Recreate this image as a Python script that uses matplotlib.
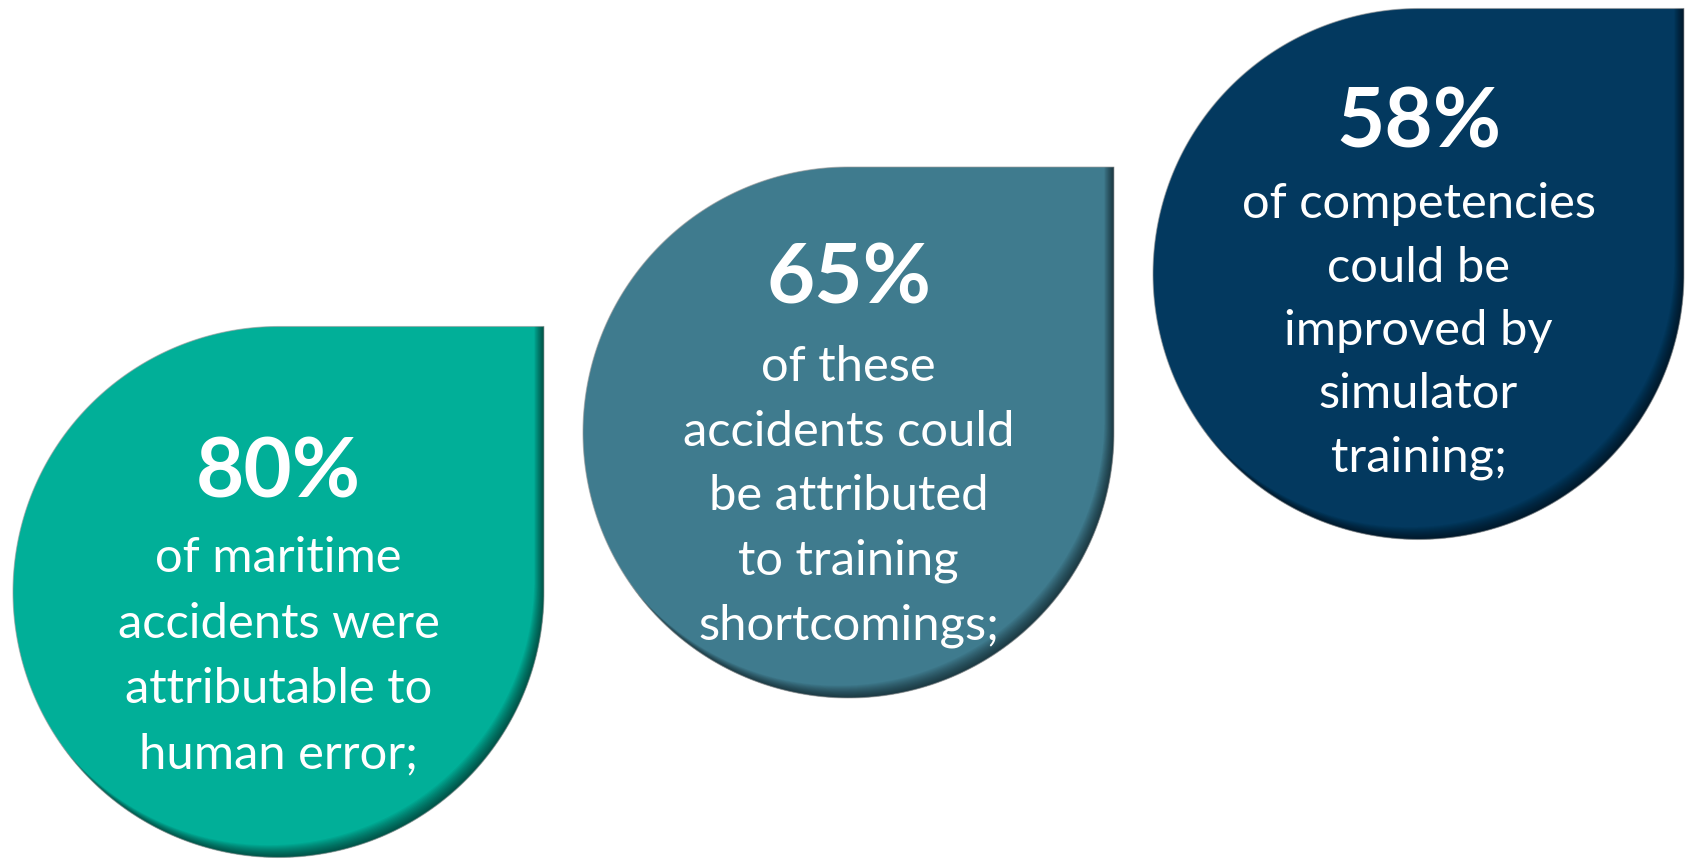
import numpy as np
import matplotlib
matplotlib.use("Agg")
import matplotlib.pyplot as plt
from matplotlib.path import Path
from matplotlib.patches import PathPatch

# ---- data ----
percentages = [80, 65, 58]
descriptions = [
    ["of maritime", "accidents were", "attributable to", "human error;"],
    ["of these", "accidents could", "be attributed", "to training", "shortcomings;"],
    ["of competencies", "could be", "improved by", "simulator", "training;"],
]
colors = ["#01AF98", "#3F7B8E", "#03395F"]

# ---- layout (pixel coordinates, y downward) ----
W, H = 1685, 859
centers = [(278.5, 592.0), (848.5, 432.5), (1418.5, 274.0)]
radius = 265.5
big_baselines = [497, 304, 148]
body_first = [572, 381, 218]
body_step = [65.6, 64.5, 63.5]

FONT = "Lato"

fig = plt.figure(figsize=(W / 100, H / 100), dpi=100)
ax = fig.add_axes([0, 0, 1, 1])
ax.set_xlim(0, W)
ax.set_ylim(H, 0)
ax.axis("off")
fig.patch.set_facecolor("white")


def drop_vertices(cx, cy, r, dx=0.0, dy=0.0):
    th = np.linspace(0, 1.5 * np.pi, 300)
    xs = cx + r * np.cos(th) + dx
    ys = cy + r * np.sin(th) + dy
    pts = np.column_stack([xs, ys])
    pts = np.vstack([pts, [cx + r + dx, cy - r + dy], [cx + r + dx, cy + dy]])
    return pts


def signed_area(p):
    x, y = p[:, 0], p[:, 1]
    return 0.5 * np.sum(x * np.roll(y, -1) - np.roll(x, -1) * y)


def closed_path(p):
    verts = np.vstack([p, p[:1]])
    codes = [Path.MOVETO] + [Path.LINETO] * (len(p) - 1) + [Path.CLOSEPOLY]
    return Path(verts, codes)


for (cx, cy), col in zip(centers, colors):
    base = drop_vertices(cx, cy, radius)
    patch = PathPatch(closed_path(base), facecolor=col, edgecolor="none", zorder=2)
    ax.add_patch(patch)
    # inner shadow along the right / bottom edges
    rect = np.array([[-100, -100], [W + 100, -100], [W + 100, H + 100], [-100, H + 100]], float)
    n_layers = 13
    for k in range(1, n_layers + 1):
        hole = drop_vertices(cx, cy, radius, dx=-0.75 * k, dy=-0.95 * k)
        if np.sign(signed_area(hole)) == np.sign(signed_area(rect)):
            hole = hole[::-1]
        cp = Path.make_compound_path(closed_path(rect), closed_path(hole))
        sh = PathPatch(cp, facecolor="black", edgecolor="none", alpha=0.05, zorder=3)
        sh.set_clip_path(patch)
        ax.add_patch(sh)
    # faint outline
    ax.add_patch(PathPatch(closed_path(base), facecolor="none", edgecolor="#9a9a9a",
                           linewidth=0.8, alpha=0.6, zorder=4))

# ---- font sizes fitted to measured widths ----
renderer = fig.canvas.get_renderer()
probe = ax.text(0, 0, "accidents could", fontsize=30, family=FONT)
w = probe.get_window_extent(renderer).width
body_fs = 30 * 331 / w
probe.remove()
probe = ax.text(0, 0, "65%", fontsize=60, family=FONT, fontweight="bold")
w = probe.get_window_extent(renderer).width
big_fs = 60 * 165 / w
probe.remove()

for i, ((cx, cy), pct, lines) in enumerate(zip(centers, percentages, descriptions)):
    ax.text(cx, big_baselines[i], f"{pct}%", ha="center", va="baseline", color="white",
            fontsize=big_fs, fontweight="bold", family=FONT, zorder=5)
    for j, line in enumerate(lines):
        ax.text(cx, body_first[i] + j * body_step[i], line, ha="center", va="baseline",
                color="white", fontsize=body_fs, family=FONT, zorder=5)

fig.savefig("out.png", dpi=100, facecolor="white")
